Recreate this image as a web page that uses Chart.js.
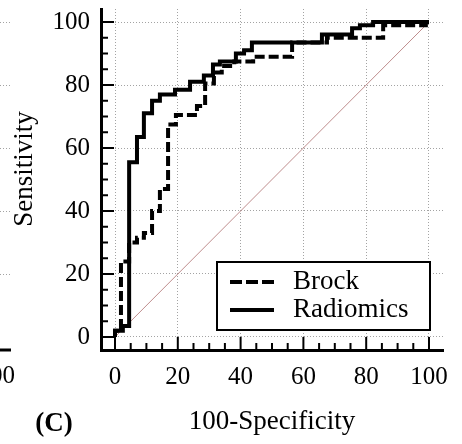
<!DOCTYPE html>
<html>
<head>
  <title>ROC curves - Brock vs Radiomics</title>
  <script src="https://cdn.jsdelivr.net/npm/chart.js"></script>
  <style>
    body { margin: 0; background: #fff; }
  </style>
</head>
<body>
  <canvas id="roc" width="462" height="444"></canvas>
  <script>
    // ROC operating points (100-specificity, sensitivity)
    const radiomicsFpr = [0, 0, 2.5, 4.5, 7, 9.2, 11.8, 14.3, 19.1, 23.9, 28.3, 31.2, 33.4, 38.5, 41.1, 43.6, 65.9, 75.5, 78, 82.2, 100];
    const radiomicsTpr = [0, 2, 3.5, 55.5, 63.5, 71, 75, 77, 78.5, 81, 83, 86.5, 87.5, 90, 91, 93.5, 96, 98, 99, 100, 100];
    const brockFpr = [0, 0, 1.9, 4.5, 7, 9.2, 11.8, 14.3, 16.9, 19.4, 26.1, 28.7, 31.5, 34, 38, 44, 56.4, 67.5, 85.4, 99, 100];
    const brockTpr = [0, 2, 24, 30, 31.5, 33, 40, 47, 67.5, 70.5, 73.3, 80.5, 84, 86, 87.5, 89, 93.5, 95, 99, 100, 100];
    const diagonal = [0, 100];
    const tickValues = [0, 20, 40, 60, 80, 100];
    const minorStep = 5;
    const legendOrder = ['Brock', 'Radiomics'];

    const serif = "'Liberation Serif', 'Times New Roman', serif";

    const toPoints = (xs, ys) => xs.map((v, i) => ({ x: v, y: ys[i] }));
    function fixedTicks(scale) {
      scale.ticks = tickValues.map(v => ({ value: v }));
    }

    // tick marks point inward, every 5 units, longer at labelled values
    const innerTicks = {
      id: 'innerTicks',
      afterDraw(chart) {
        const { ctx, chartArea, scales: { x, y } } = chart;
        ctx.save();
        ctx.strokeStyle = '#000';
        ctx.lineWidth = 2;
        ctx.beginPath();
        for (let v = 0; v <= 100; v += minorStep) {
          const len = tickValues.includes(v) ? 13 : 7;
          const px = x.getPixelForValue(v);
          ctx.moveTo(px, chartArea.bottom);
          ctx.lineTo(px, chartArea.bottom - len);
          const py = y.getPixelForValue(v);
          ctx.moveTo(chartArea.left, py);
          ctx.lineTo(chartArea.left + len, py);
        }
        ctx.stroke();
        ctx.restore();
      }
    };

    // boxed legend in the lower right of the plot
    const boxLegend = {
      id: 'boxLegend',
      afterDraw(chart) {
        const { ctx } = chart;
        const bx = 217, by = 262, bw = 213, bh = 68;
        ctx.save();
        ctx.fillStyle = '#fff';
        ctx.fillRect(bx, by, bw, bh);
        ctx.strokeStyle = '#000';
        ctx.lineWidth = 2;
        ctx.strokeRect(bx, by, bw, bh);
        ctx.font = `27px ${serif}`;
        ctx.textBaseline = 'middle';
        ctx.fillStyle = '#000';
        legendOrder.forEach((label, i) => {
          const ds = chart.data.datasets.find(d => d.label === label);
          const cy = by + 20 + i * 28;
          ctx.beginPath();
          ctx.lineWidth = ds.borderWidth;
          ctx.setLineDash(ds.borderDash ? [12, 4] : []);
          ctx.moveTo(bx + 13, cy);
          ctx.lineTo(bx + 57, cy);
          ctx.stroke();
          ctx.setLineDash([]);
          ctx.fillText(label, bx + 76, cy);
        });
        ctx.restore();
      }
    };

    // y title, panel letter and the edge of the neighbouring panel
    const panelText = {
      id: 'panelText',
      afterDraw(chart) {
        const { ctx, scales: { y } } = chart;
        ctx.save();
        ctx.fillStyle = '#000';
        ctx.textAlign = 'center';
        ctx.textBaseline = 'middle';
        ctx.font = `27px ${serif}`;
        ctx.save();
        ctx.translate(25, 169);
        ctx.rotate(-Math.PI / 2);
        ctx.fillText('Sensitivity', 0, 0);
        ctx.restore();
        ctx.font = `bold 27px ${serif}`;
        ctx.fillText('(C)', 54, 424);

        ctx.font = `25px ${serif}`;
        ctx.textAlign = 'right';
        ctx.fillText('100', 15, 376);
        ctx.strokeStyle = '#000';
        ctx.lineWidth = 3;
        ctx.beginPath();
        ctx.moveTo(0, 350);
        ctx.lineTo(11, 350);
        ctx.stroke();
        ctx.strokeStyle = 'rgba(140,140,140,0.8)';
        ctx.lineWidth = 1;
        ctx.setLineDash([1, 2]);
        ctx.beginPath();
        tickValues.slice(1).forEach(v => {
          const py = Math.round(y.getPixelForValue(v)) + 0.5;
          ctx.moveTo(0, py);
          ctx.lineTo(10, py);
        });
        ctx.stroke();
        ctx.restore();
      }
    };

    const axisStyle = {
      type: 'linear',
      afterBuildTicks: fixedTicks,
      grid: { color: 'rgba(140,140,140,0.8)', lineWidth: 1, drawTicks: false },
      border: { display: true, color: '#000', width: 3, dash: [1, 2] },
    };

    new Chart(document.getElementById('roc'), {
      type: 'scatter',
      data: {
        datasets: [
          {
            label: 'Radiomics',
            data: toPoints(radiomicsFpr, radiomicsTpr),
            showLine: true, stepped: 'before',
            borderColor: '#000', borderWidth: 4, pointRadius: 0
          },
          {
            label: 'Brock',
            data: toPoints(brockFpr, brockTpr),
            showLine: true, stepped: 'before',
            borderColor: '#000', borderWidth: 4, borderDash: [10, 4], pointRadius: 0
          },
          {
            label: 'Reference',
            data: toPoints(diagonal, diagonal),
            showLine: true,
            borderColor: 'rgb(190,140,140)', borderWidth: 1, pointRadius: 0
          }
        ]
      },
      options: {
        responsive: false,
        animation: false,
        layout: { padding: { top: 9, right: 19, left: 0, bottom: 0 } },
        plugins: { legend: { display: false }, tooltip: { enabled: false } },
        scales: {
          x: {
            ...axisStyle,
            min: -4.46, max: 104.46,
            afterFit: s => { s.height = 94; s.paddingLeft = 0; s.paddingRight = 0; },
            ticks: { padding: 12, autoSkip: false, maxRotation: 0, color: '#000', font: { family: serif, size: 25 } },
            title: { display: true, text: '100-Specificity', color: '#000', font: { family: serif, size: 27 }, padding: { top: 0, bottom: 6 } }
          },
          y: {
            ...axisStyle,
            min: -4.13, max: 104.13,
            afterFit: s => { s.width = 101; s.paddingTop = 0; s.paddingBottom = 0; },
            ticks: { padding: 11, autoSkip: false, color: '#000', font: { family: serif, size: 25 } }
          }
        }
      },
      plugins: [innerTicks, boxLegend, panelText]
    });
  </script>
</body>
</html>
